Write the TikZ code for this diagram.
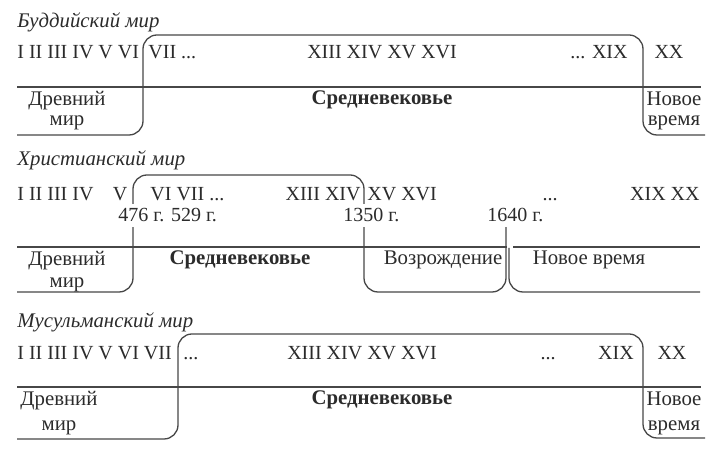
\documentclass[tikz,border=0pt]{standalone}
\usepackage{fontspec}
\setmainfont{Liberation Serif}
\definecolor{ink_c}{rgb}{
	0.17, 0.17, 0.17
	}
\definecolor{rule_c}{rgb}{
	0.28, 0.28, 0.28
	}
\usetikzlibrary{positioning}
\begin{document}
\begin{tikzpicture}[
			x=0.5pt, y=-0.5pt,
			text=ink_c,
			font=\fontsize{10}{10}\selectfont,
			rule/.style = {draw=rule_c, line width=0.65pt},
			era/.style = {rule, rounded corners=7pt},
			world/.style = {anchor=west, inner sep=0pt, font=\fontsize{10.4}{10}\selectfont\itshape},
			cent/.style = {inner sep=0pt, anchor=base},
			date/.style = {anchor=base west, inner xsep=0pt, inner ysep=2.5pt, fill=white},
			period/.style = {align=center, inner sep=0pt, font=\fontsize{10.4}{10}\selectfont},
			]
			\useasboundingbox (0,0) rectangle (719,453);
			% rules
			\draw[rule] (17,87) -- (701,87);
			\draw[rule] (17,247) -- (507,247);
			\draw[rule] (513,247) -- (700,247);
			\draw[rule] (17,387) -- (701,387);
			% eras
			\draw[era] (17,135) -| (143,35) -| (643,135) -- (705,135);
			\draw[era] (17,292) -| (133,175) -| (364,292) -| (506,223);
			\draw[era] (509,248) |- (700,292);
			\draw[era] (17,439) -| (178,334) -| (643,438) -- (705,438);
			% buddhist world
			\node[world] (t1) at (17,22) {Буддийский мир};
			\node[cent, anchor=base west] (b1) at (17,59) {I II III IV V VI};
			\node[cent, anchor=base west] (b2) at (148,59) {VII ...};
			\node[cent] (b3) at (382,59) {XIII XIV XV XVI};
			\node[cent, anchor=base east] (b4) at (628,59) {... XIX};
			\node[cent] (b5) at (669,59) {XX};
			\node[period] (b_anc) at (67,111) {Древний\\мир};
			\node[period] (b_mid) at (382,100) {\bfseries Средневековье};
			\node[period] (b_new) at (674,111) {Новое\\время};
			% christian world
			\node[world] (t2) at (17,160) {Христианский мир};
			\node[cent, anchor=base west] (c1) at (17,201) {I II III IV};
			\node[cent] (c2) at (120,201) {V};
			\node[cent, anchor=base west] (c3) at (150,201) {VI VII ...};
			\node[cent, anchor=base east] (c4) at (361,201) {XIII XIV};
			\node[cent, anchor=base west] (c5) at (367,201) {XV XVI};
			\node[cent] (c6) at (550,201) {...};
			\node[cent, anchor=base east] (c7) at (700,201) {XIX XX};
			\node[date] (d1) at (118,222) {476 г. 529 г.};
			\node[date] (d2) at (343,222) {1350 г.};
			\node[date] (d3) at (487,222) {1640 г.};
			\node[period] (c_anc) at (67,272) {Древний\\[1pt]мир};
			\node[period] (c_mid) at (240,260) {\bfseries Средневековье};
			\node[period] (c_ren) at (443,260) {Возрождение};
			\node[period] (c_new) at (589,260) {Новое время};
			% muslim world
			\node[world] (t3) at (17,322) {Мусульманский мир};
			\node[cent, anchor=base west] (m1) at (17,360) {I II III IV V VI VII};
			\node[cent, anchor=base west] (m2) at (183,360) {...};
			\node[cent] (m3) at (362,360) {XIII XIV XV XVI};
			\node[cent] (m4) at (548,360) {...};
			\node[cent] (m5) at (616,360) {XIX};
			\node[cent] (m6) at (672,360) {XX};
			\node[period] (m_anc) at (59,413) {Древний\\[2.5pt]мир};
			\node[period] (m_mid) at (382,400) {\bfseries Средневековье};
			\node[period] (m_new) at (674,413) {Новое\\[2.5pt]время};
		\end{tikzpicture}
\end{document}
